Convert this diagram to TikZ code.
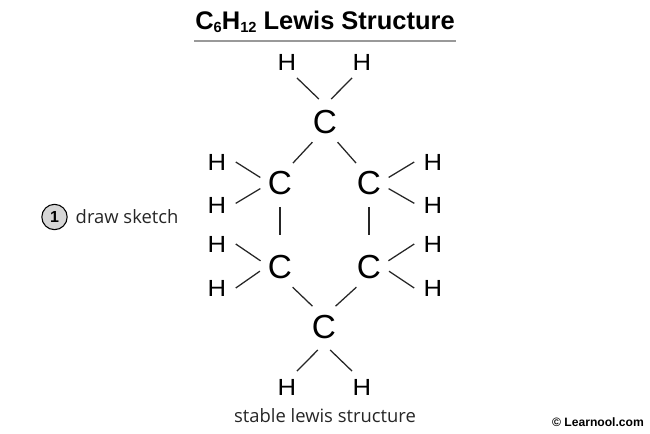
\documentclass[tikz,border=0pt]{standalone}
\usepackage{fontspec}
\setmainfont{Liberation Sans}
\newfontfamily\labelfont{Open Sans}
\newfontfamily\hfont[FakeStretch=1.1]{Liberation Sans}
\usetikzlibrary{positioning}
\tikzset{
    carbon/.style={circle, inner sep=0pt, minimum size=35.25pt, font=\fontsize{25}{25}\selectfont},
    hydrogen/.style={circle, inner sep=0pt, minimum size=27.75pt, font=\hfont\fontsize{17.5}{18}\selectfont},
    bond/.style={line width=0.95pt, black!85},
    sidebond/.style={bond, shorten <=-2.6pt},
    caption/.style={font=\labelfont\fontsize{13.8}{16}\selectfont, text=black!85}
}
\begin{document}
\begin{tikzpicture}[x=0.75pt, y=-0.75pt]
    \useasboundingbox (0,0) rectangle (650,433);

    % Title
    \node[font=\bfseries\fontsize{19.1}{22}\selectfont] (title) at (325,22) {C\raisebox{-2.4pt}{\fontsize{11}{11}\selectfont 6}H\raisebox{-2.4pt}{\fontsize{11}{11}\selectfont 12} Lewis Structure};
    \coordinate (ruleL) at (194,41);
    \coordinate (ruleR) at (456,41);
    \draw[line width=0.8pt, black!40] (ruleL) -- (ruleR);

    % Step label
    \node[circle, draw, line width=0.8pt, fill=black!16, minimum size=19pt, inner sep=0pt, font=\bfseries\fontsize{12}{12}\selectfont] (stepone) at (54.5,217) {1};
    \node[caption, right=2.5pt of stepone] (steptext) {draw sketch};

    % Carbon ring
    \node[carbon] (ctop) at (325,122) {C};
    \node[carbon] (cul) at (280,183) {C};
    \node[carbon] (cur) at (369,183) {C};
    \node[carbon] (cll) at (280,267) {C};
    \node[carbon] (clr) at (369,267) {C};
    \node[carbon] (cbot) at (324,327) {C};

    % Hydrogens
    \node[hydrogen] (h1) at (287,62) {H};
    \node[hydrogen] (h2) at (362,62) {H};
    \node[hydrogen] (h3) at (217,162) {H};
    \node[hydrogen] (h4) at (217,205) {H};
    \node[hydrogen] (h5) at (433,162) {H};
    \node[hydrogen] (h6) at (433,205) {H};
    \node[hydrogen] (h7) at (217,244) {H};
    \node[hydrogen] (h8) at (217,288) {H};
    \node[hydrogen] (h9) at (433,244) {H};
    \node[hydrogen] (h10) at (433,288) {H};
    \node[hydrogen] (h11) at (287,387) {H};
    \node[hydrogen] (h12) at (362,387) {H};

    % Ring bonds
    \draw[bond] (ctop.238) -- (cul.57);
    \draw[bond] (ctop.302) -- (cur.123);
    \draw[bond, shorten >=6.4pt] (cul.270) -- (cll.90);
    \draw[bond, shorten >=6.4pt] (cur.270) -- (clr.90);
    \draw[bond] (cll.302) -- (cbot.119);
    \draw[bond] (clr.238) -- (cbot.61);

    % C-H bonds
    \draw[bond] (h1.-58) -- (ctop.105);
    \draw[bond] (h2.238) -- (ctop.75);
    \draw[sidebond] (cul.162) -- (h3.0);
    \draw[sidebond] (cul.198) -- (h4.5);
    \draw[sidebond] (cur.18) -- (h5.180);
    \draw[sidebond] (cur.342) -- (h6.175);
    \draw[sidebond] (cll.160) -- (h7.0);
    \draw[sidebond] (cll.195) -- (h8.0);
    \draw[sidebond] (clr.20) -- (h9.180);
    \draw[sidebond] (clr.345) -- (h10.180);
    \draw[bond] (cbot.255) -- (h11.58);
    \draw[bond] (cbot.285) -- (h12.122);

    % Bottom texts
    \node[caption] (result) at (325,416) {stable lewis structure};
    \node[font=\bfseries\fontsize{9.1}{11}\selectfont] (credit) at (598,422) {© Learnool.com};
\end{tikzpicture}
\end{document}
